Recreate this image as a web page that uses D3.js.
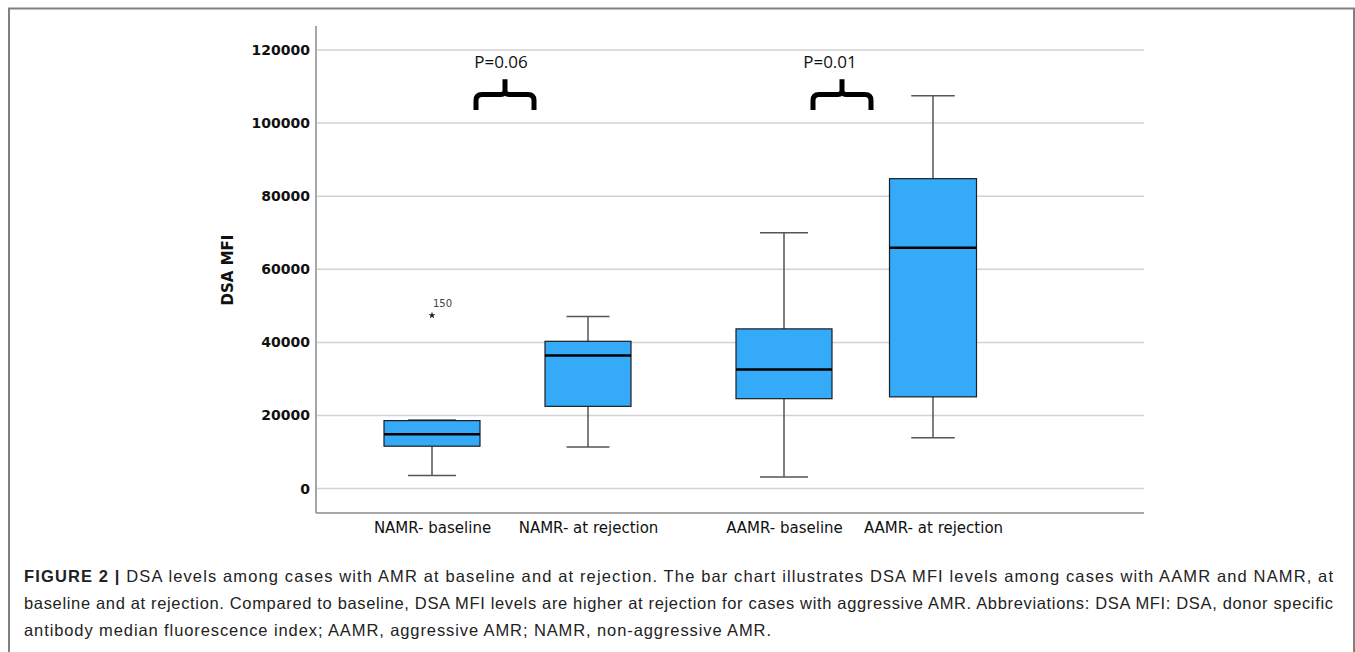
<html>
<head>
<script src="https://cdn.jsdelivr.net/npm/d3@7"></script>
<style>
  body { margin: 0; background: #fff; }
</style>
</head>
<body>
<svg id="chart" width="1355" height="652"></svg>
<script>
// data (DSA MFI)
var categories  = ["NAMR- baseline", "NAMR- at rejection", "AAMR- baseline", "AAMR- at rejection"];
var whiskerLow  = [3600, 11400, 3200, 13900];
var q1          = [11600, 22500, 24600, 25100];
var median      = [14900, 36400, 32600, 65900];
var q3          = [18600, 40300, 43700, 84800];
var whiskerHigh = [18800, 47100, 70000, 107500];

var outlierCats   = ["NAMR- baseline"];
var outlierValues = [47400];
var outlierLabels = ["150"];

var yTicks  = [0, 20000, 40000, 60000, 80000, 100000, 120000];
var pLabels = ["P=0.06", "P=0.01"];

var captionBold = "FIGURE 2 |";
var captionLines = [
  " DSA levels among cases with AMR at baseline and at rejection. The bar chart illustrates DSA MFI levels among cases with AAMR and NAMR, at",
  "baseline and at rejection. Compared to baseline, DSA MFI levels are higher at rejection for cases with aggressive AMR. Abbreviations: DSA MFI: DSA, donor specific",
  "antibody median fluorescence index; AAMR, aggressive AMR; NAMR, non-aggressive AMR."
];

var boxes = categories.map(function(c, i) {
  return {cat: c, lo: whiskerLow[i], q1: q1[i], med: median[i], q3: q3[i], hi: whiskerHigh[i]};
});

var svg = d3.select('#chart');

// frame around the figure panel
svg.append('path')
  .attr('d', 'M9,652 L9,8.5 L1354,8.5 L1354,652')
  .attr('fill', 'none')
  .attr('stroke', '#808080')
  .attr('stroke-width', 2);

// scales (categories are not evenly spaced in the original)
var x = d3.scaleOrdinal().domain(categories).range([432, 588, 784, 933]);
var boxW = d3.scaleOrdinal().domain(categories).range([96, 86, 96, 87]);
var y = d3.scaleLinear().domain([-6680, 126570]).range([513, 26]);

var plotLeft = 316, plotRight = 1144;

// gridlines
svg.append('g')
  .selectAll('line')
  .data(yTicks)
  .enter()
  .append('line')
  .attr('x1', plotLeft + 1)
  .attr('x2', plotRight)
  .attr('y1', function(d) { return y(d); })
  .attr('y2', function(d) { return y(d); })
  .attr('stroke', '#d2d2d2')
  .attr('stroke-width', 1.5);

// y axis
var yAxis = d3.axisLeft(y).tickValues(yTicks).tickSize(0).tickPadding(6).tickFormat(d3.format('d'));
var gy = svg.append('g')
  .attr('transform', 'translate(' + plotLeft + ',0)')
  .call(yAxis);
gy.select('.domain').remove();
gy.selectAll('text')
  .attr('font-family', 'DejaVu Sans')
  .attr('font-weight', 'bold')
  .attr('font-size', 14)
  .attr('fill', '#111');

// axis lines
svg.append('line')
  .attr('x1', plotLeft).attr('x2', plotLeft)
  .attr('y1', y.range()[1]).attr('y2', y.range()[0])
  .attr('stroke', '#8a8a8a').attr('stroke-width', 1.5);
svg.append('line')
  .attr('x1', plotLeft).attr('x2', plotRight)
  .attr('y1', y.range()[0]).attr('y2', y.range()[0])
  .attr('stroke', '#8a8a8a').attr('stroke-width', 1.5);

// y title
svg.append('text')
  .attr('transform', 'translate(233,270) rotate(-90)')
  .attr('text-anchor', 'middle')
  .attr('font-family', 'DejaVu Sans')
  .attr('font-weight', 'bold')
  .attr('font-size', 15)
  .attr('fill', '#111')
  .text('DSA MFI');

// x labels
var xAxis = d3.axisBottom(x).tickSize(0).tickPadding(0);
var gx = svg.append('g')
  .attr('transform', 'translate(0,' + y.range()[0] + ')')
  .call(xAxis);
gx.select('.domain').remove();
gx.selectAll('text')
  .attr('dy', 0)
  .attr('y', 20)
  .attr('font-family', 'DejaVu Sans')
  .attr('font-size', 15)
  .attr('fill', '#111');

// boxplots
var g = svg.append('g')
  .selectAll('g')
  .data(boxes)
  .enter()
  .append('g');

g.append('line') // stem
  .attr('x1', function(d) { return x(d.cat); })
  .attr('x2', function(d) { return x(d.cat); })
  .attr('y1', function(d) { return y(d.lo); })
  .attr('y2', function(d) { return y(d.hi); })
  .attr('stroke', '#555')
  .attr('stroke-width', 1.5);

g.selectAll('.cap')
  .data(function(d) { return [{cat: d.cat, v: d.lo}, {cat: d.cat, v: d.hi}]; })
  .enter()
  .append('line')
  .attr('class', 'cap')
  .attr('x1', function(d) { return x(d.cat) - boxW(d.cat) / 4; })
  .attr('x2', function(d) { return x(d.cat) + boxW(d.cat) / 4; })
  .attr('y1', function(d) { return y(d.v); })
  .attr('y2', function(d) { return y(d.v); })
  .attr('stroke', '#555')
  .attr('stroke-width', 1.5);

g.append('rect')
  .attr('x', function(d) { return x(d.cat) - boxW(d.cat) / 2; })
  .attr('width', function(d) { return boxW(d.cat); })
  .attr('y', function(d) { return y(d.q3); })
  .attr('height', function(d) { return y(d.q1) - y(d.q3); })
  .attr('fill', '#34aaf9')
  .attr('stroke', '#1e1e1e')
  .attr('stroke-width', 1.2);

g.append('line') // median
  .attr('x1', function(d) { return x(d.cat) - boxW(d.cat) / 2; })
  .attr('x2', function(d) { return x(d.cat) + boxW(d.cat) / 2; })
  .attr('y1', function(d) { return y(d.med); })
  .attr('y2', function(d) { return y(d.med); })
  .attr('stroke', '#000')
  .attr('stroke-width', 2.5);

// outliers
var outliers = outlierCats.map(function(c, i) { return {cat: c, v: outlierValues[i], label: outlierLabels[i]}; });
var og = svg.append('g').selectAll('g').data(outliers).enter().append('g');
og.append('path')
  .attr('transform', function(d) { return 'translate(' + x(d.cat) + ',' + y(d.v) + ')'; })
  .attr('d', d3.symbol(d3.symbolStar).size(16))
  .attr('fill', '#222');
og.append('text')
  .attr('x', function(d) { return x(d.cat) + 1; })
  .attr('y', function(d) { return y(d.v) - 8; })
  .attr('font-family', 'DejaVu Sans')
  .attr('font-size', 10)
  .attr('fill', '#444')
  .text(function(d) { return d.label; });

// p-value annotations with braces
var braceX = [505, 842], pTextX = [501, 830];
var braceTop = 112000, braceBar = 107800, braceEnd = 103600;
function bracePath(cx) {
  var hw = 29, r = 6, r2 = 4;
  var yt = y(braceTop), yb = y(braceBar), ye = y(braceEnd);
  return 'M' + (cx - hw) + ',' + ye + ' L' + (cx - hw) + ',' + (yb + r) +
    ' Q' + (cx - hw) + ',' + yb + ' ' + (cx - hw + r) + ',' + yb +
    ' L' + (cx - r2) + ',' + yb + ' Q' + cx + ',' + yb + ' ' + cx + ',' + (yb - r2) +
    ' L' + cx + ',' + yt +
    ' M' + (cx + hw) + ',' + ye + ' L' + (cx + hw) + ',' + (yb + r) +
    ' Q' + (cx + hw) + ',' + yb + ' ' + (cx + hw - r) + ',' + yb +
    ' L' + (cx + r2) + ',' + yb + ' Q' + cx + ',' + yb + ' ' + cx + ',' + (yb - r2);
}
svg.append('g').selectAll('path')
  .data(pLabels)
  .enter()
  .append('path')
  .attr('d', function(d, i) { return bracePath(braceX[i]); })
  .attr('fill', 'none')
  .attr('stroke', '#000')
  .attr('stroke-width', 5);
svg.append('g').selectAll('text')
  .data(pLabels)
  .enter()
  .append('text')
  .attr('x', function(d, i) { return pTextX[i]; })
  .attr('y', 68)
  .attr('text-anchor', 'middle')
  .attr('font-family', 'Open Sans')
  .attr('font-size', 17)
  .attr('fill', '#111')
  .text(function(d) { return d; });

// caption: each line stretched to the width it has in the figure
var cap = svg.append('g').attr('font-family', 'Liberation Sans').attr('font-size', 16.5).attr('fill', '#222');
var capY = [582, 609, 636];
var capW = [1309, 1309, 747];
var t0 = cap.append('text').attr('x', 24).attr('y', capY[0])
  .attr('textLength', capW[0]).attr('lengthAdjust', 'spacing');
t0.append('tspan').attr('font-weight', 'bold').text(captionBold);
t0.append('tspan').text(captionLines[0]);
captionLines.slice(1).forEach(function(line, i) {
  cap.append('text')
    .attr('x', 24)
    .attr('y', capY[i + 1])
    .attr('textLength', capW[i + 1])
    .attr('lengthAdjust', 'spacing')
    .text(line);
});
</script>
</body>
</html>
